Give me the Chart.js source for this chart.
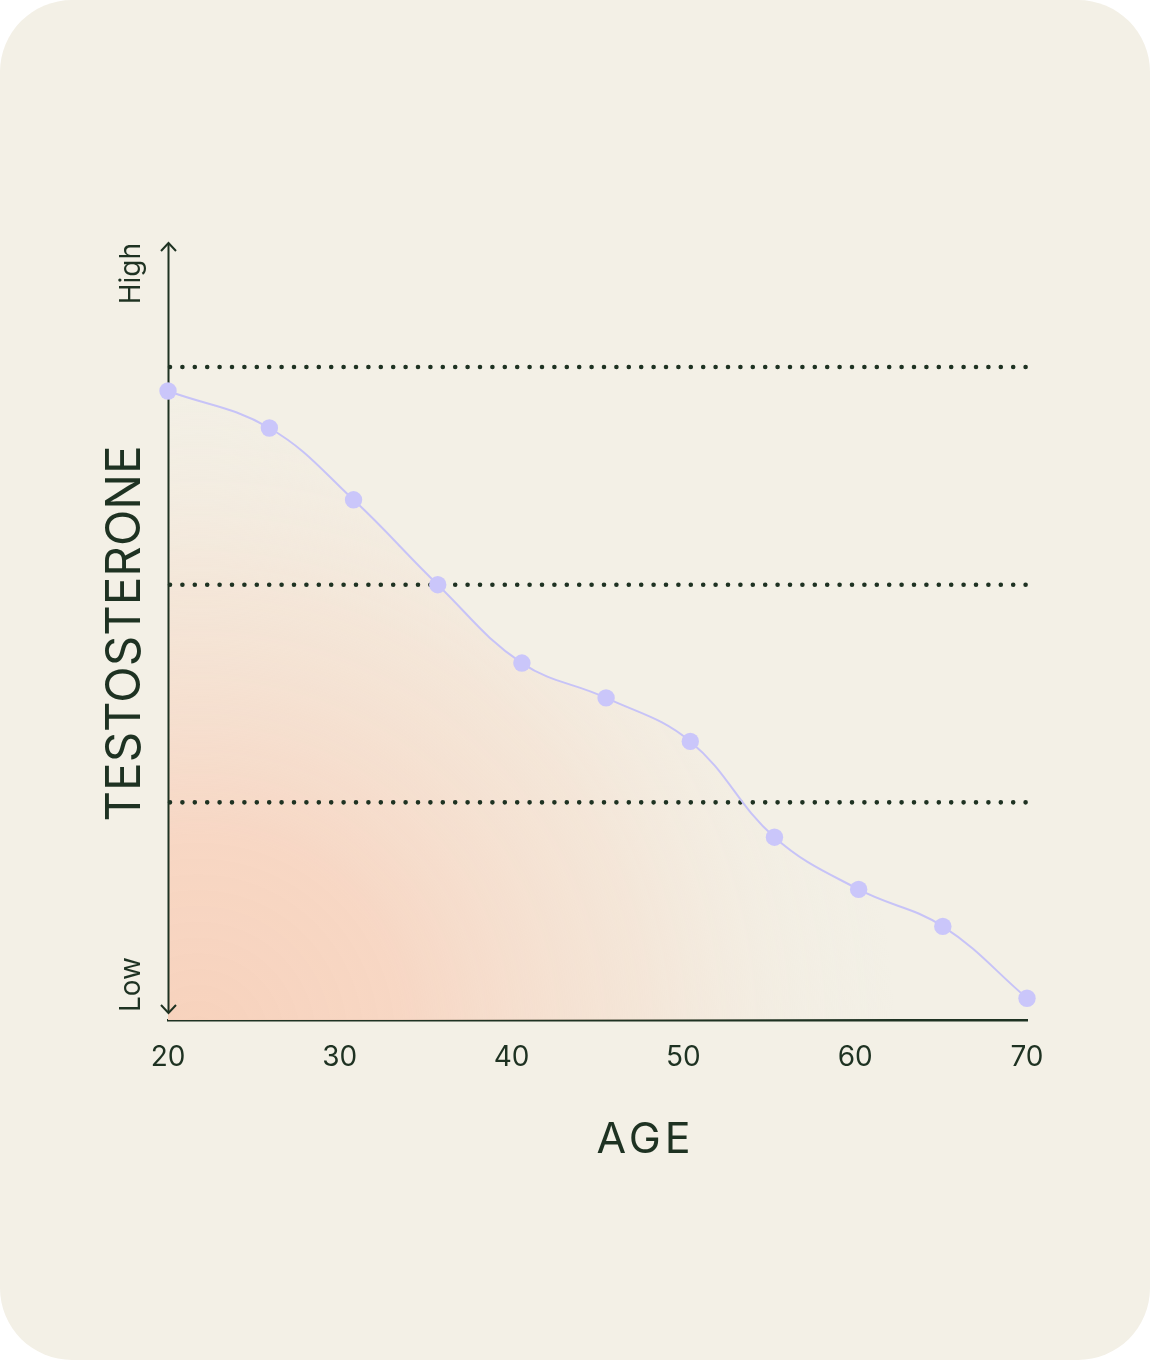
<!DOCTYPE html>
<html>
<head>
<meta charset="utf-8">
<title>Testosterone by age</title>
<script src="https://cdn.jsdelivr.net/npm/chart.js@4.4.1/dist/chart.umd.min.js"></script>
<style>
  html, body { margin: 0; padding: 0; background: #ffffff; }
  #card {
    position: relative;
    width: 1150px;
    height: 1360px;
    background: #F3F0E6;
    border-radius: 72px;
    overflow: hidden;
  }
  canvas { display: block; }
</style>
</head>
<body>
<div id="card"><canvas id="chart" width="1150" height="1360"></canvas></div>
<script>
// Age (years) of each sample point
const ages = [20, 25.9, 30.8, 35.7, 40.6, 45.5, 50.4, 55.3, 60.2, 65.1, 70];
// Relative testosterone level (0 = low end of the axis)
const levels = [2.89, 2.72, 2.39, 2.0, 1.64, 1.48, 1.28, 0.84, 0.60, 0.43, 0.10];
// Age tick labels
const ageTicks = [20, 30, 40, 50, 60, 70];
// Levels of the dotted reference lines
const guideLevels = [1, 2, 3];
// Axis end labels
const lowLabel = 'Low';
const highLabel = 'High';
const yTitle = 'TESTOSTERONE';
const xTitle = 'AGE';

const INK = '#1E3222';
const LINE = '#C7C3F7';
const DOT = '#CAC6FA';
const FONT = 'Inter, "Open Sans", sans-serif';

// Salmon glow from the lower-left corner of the plot
function areaGradient(context) {
  const chart = context.chart;
  const area = chart.chartArea;
  if (!area) return 'rgba(0,0,0,0)';
  const ctx = chart.ctx;
  const cx = area.left + 30;
  const cy = area.bottom + 20;
  const g = ctx.createRadialGradient(cx, cy, 0, cx, cy, 820);
  g.addColorStop(0.00, 'rgba(247,210,188,1)');
  g.addColorStop(0.25, 'rgba(247,213,194,0.95)');
  g.addColorStop(0.55, 'rgba(245,222,205,0.55)');
  g.addColorStop(0.85, 'rgba(243,240,230,0)');
  return g;
}

const guidesAndAxis = {
  id: 'guidesAndAxis',
  beforeDatasetsDraw(chart) {
    const { ctx, chartArea: a, scales: { y } } = chart;
    ctx.save();
    // dotted reference lines
    ctx.strokeStyle = INK;
    ctx.lineWidth = 4.6;
    ctx.lineCap = 'round';
    ctx.setLineDash([0, 12.4]);
    guideLevels.forEach(v => {
      const py = y.getPixelForValue(v);
      ctx.beginPath();
      ctx.moveTo(a.left + 2, py);
      ctx.lineTo(a.right, py);
      ctx.stroke();
    });
    ctx.setLineDash([]);
    // vertical axis with arrow heads at both ends
    const x = a.left + 0.5;
    const top = a.top;
    const bottom = a.bottom - 7;
    ctx.lineWidth = 2;
    ctx.lineCap = 'butt';
    ctx.lineJoin = 'miter';
    ctx.beginPath();
    ctx.moveTo(x, top);
    ctx.lineTo(x, bottom);
    ctx.stroke();
    ctx.beginPath();
    ctx.moveTo(x - 7.5, top + 8);
    ctx.lineTo(x, top);
    ctx.lineTo(x + 7.5, top + 8);
    ctx.stroke();
    ctx.beginPath();
    ctx.moveTo(x - 7.5, bottom - 8);
    ctx.lineTo(x, bottom);
    ctx.lineTo(x + 7.5, bottom - 8);
    ctx.stroke();
    ctx.restore();
  },
  afterDraw(chart) {
    const { ctx, chartArea: a } = chart;
    ctx.save();
    ctx.fillStyle = INK;
    // rotated labels on the left
    ctx.save();
    ctx.translate(140, 0);
    ctx.rotate(-Math.PI / 2);
    ctx.textBaseline = 'alphabetic';
    ctx.font = '400 28px ' + FONT;
    ctx.textAlign = 'right';
    ctx.fillText(highLabel, -a.top, 0);
    ctx.textAlign = 'left';
    ctx.fillText(lowLabel, -(a.bottom - 8), 0);
    ctx.font = '400 47.5px ' + FONT;
    ctx.letterSpacing = '0px';
    const w = ctx.measureText(yTitle).width;
    ctx.textAlign = 'left';
    ctx.fillText(yTitle, -(633.5 + w / 2), 0);
    ctx.restore();
    // horizontal axis title
    ctx.font = '400 43px ' + FONT;
    ctx.letterSpacing = '4px';
    const wa = ctx.measureText(xTitle).width - 4;
    ctx.textAlign = 'left';
    ctx.textBaseline = 'alphabetic';
    ctx.fillText(xTitle, 643.5 - wa / 2, 1153);
    ctx.restore();
  }
};

new Chart(document.getElementById('chart'), {
  type: 'line',
  data: {
    datasets: [{
      data: ages.map((a, i) => ({ x: a, y: levels[i] })),
      borderColor: LINE,
      borderWidth: 2,
      tension: 0.4,
      pointRadius: 8.7,
      pointHoverRadius: 8.7,
      pointBackgroundColor: DOT,
      pointBorderWidth: 0,
      fill: 'origin',
      backgroundColor: areaGradient,
      clip: false
    }]
  },
  options: {
    responsive: false,
    animation: false,
    events: [],
    layout: { padding: { left: 168, right: 123, top: 243, bottom: 0 } },
    plugins: {
      legend: { display: false },
      tooltip: { enabled: false },
      filler: { drawTime: 'beforeDatasetsDraw' }
    },
    scales: {
      x: {
        type: 'linear',
        min: 20,
        max: 70,
        afterBuildTicks: s => { s.ticks = ageTicks.map(v => ({ value: v })); },
        afterFit: s => { s.height = 340; },
        grid: { display: false, drawTicks: false },
        border: { display: true, color: INK, width: 2.5 },
        ticks: {
          padding: 21,
          color: INK,
          font: { family: FONT, size: 28, weight: '400' },
          maxRotation: 0,
          autoSkip: false
        }
      },
      y: {
        type: 'linear',
        min: 0,
        max: 3.57,
        display: false
      }
    }
  },
  plugins: [guidesAndAxis]
});
</script>
</body>
</html>
